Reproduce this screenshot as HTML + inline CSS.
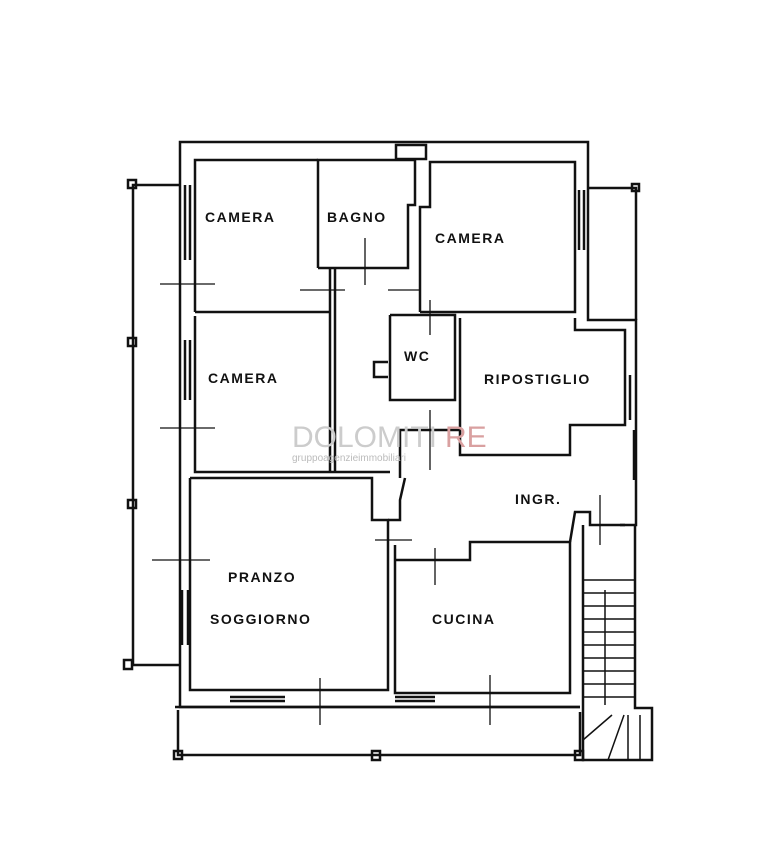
<!DOCTYPE html>
<html><head><style>
html,body{margin:0;padding:0;background:#fff;}
svg{display:block}
text{font-family:"Liberation Sans",sans-serif;font-weight:bold;font-size:14px;fill:#111;letter-spacing:1.5px}
</style></head><body>
<svg width="773" height="866" viewBox="0 0 773 866" xmlns="http://www.w3.org/2000/svg">
<g fill="none" stroke="#111" stroke-width="2.5" stroke-linejoin="miter">
<!-- outer walls -->
<polyline points="180,185 180,142 588,142 588,320 636,320 636,525 620,525"/>
<polyline points="180,185 180,707 580,707"/>
<line x1="175" y1="707" x2="580" y2="707"/>
<!-- left balcony rail -->
<polyline points="180,185 133,185 133,665 180,665"/>
<rect x="128" y="180" width="8" height="8"/>
<rect x="128" y="338" width="8" height="8"/>
<rect x="128" y="500" width="8" height="8"/>
<rect x="124" y="660" width="8" height="9"/>
<!-- right balcony -->
<polyline points="588,188 636,188 636,320"/>
<rect x="632" y="184" width="7" height="7"/>
<!-- bottom terrace -->
<polyline points="178,710 178,755 580,755 580,712"/>
<rect x="174" y="751" width="8" height="8"/>
<rect x="372" y="751" width="8" height="9"/>
<rect x="575" y="751" width="8" height="9"/>
<!-- camera 1 -->
<polyline points="195,312 195,160 318,160"/>
<line x1="195" y1="312" x2="330" y2="312"/>
<!-- bagno -->
<polyline points="318,268 318,160 415,160 415,205 408,205 408,268 318,268"/>
<rect x="396" y="145" width="30" height="14"/>
<!-- camera right -->
<polyline points="420,312 420,207 430,207 430,162 575,162 575,312 420,312"/>
<line x1="330" y1="268" x2="330" y2="472"/>
<line x1="335" y1="268" x2="335" y2="472"/>
<!-- camera 2 -->
<polyline points="195,316 195,472 390,472"/>
<!-- wc -->
<polyline points="390,315 390,400 455,400 455,315 390,315"/>
<polyline points="388,362 374,362 374,377 388,377"/>
<!-- ripostiglio -->
<polyline points="460,318 460,455 570,455 570,425 625,425 625,330 575,330 575,318"/>
<!-- pranzo -->
<polyline points="190,478 190,690 388,690 388,520 372,520 372,478 190,478"/>
<polyline points="388,520 400,520 400,500 405,478"/>
<!-- cucina -->
<polyline points="395,545 395,693 570,693 570,542 470,542 470,560 395,560"/>
<polyline points="570,542 575,512 590,512 590,525 625,525"/>
<polyline points="400,478 400,430 460,430"/>
<!-- windows -->
<line x1="185" y1="185" x2="185" y2="260"/><line x1="190" y1="185" x2="190" y2="260"/>
<line x1="185" y1="340" x2="185" y2="400"/><line x1="190" y1="340" x2="190" y2="400"/>
<line x1="182" y1="590" x2="182" y2="645"/><line x1="188" y1="590" x2="188" y2="645"/>
<line x1="579" y1="190" x2="579" y2="250"/><line x1="584" y1="190" x2="584" y2="250"/>
<line x1="630" y1="375" x2="630" y2="420"/><line x1="634" y1="430" x2="634" y2="480"/>
<line x1="230" y1="697" x2="285" y2="697"/><line x1="230" y1="701" x2="285" y2="701"/>
<line x1="395" y1="697" x2="435" y2="697"/><line x1="395" y1="701" x2="435" y2="701"/>
<!-- stairs -->
<polyline points="583,525 583,760 652,760 652,708 635,708 635,525"/>
<g stroke-width="1.5">
<line x1="583" y1="580" x2="635" y2="580"/><line x1="583" y1="593" x2="635" y2="593"/>
<line x1="583" y1="606" x2="635" y2="606"/><line x1="583" y1="619" x2="635" y2="619"/>
<line x1="583" y1="632" x2="635" y2="632"/><line x1="583" y1="645" x2="635" y2="645"/>
<line x1="583" y1="658" x2="635" y2="658"/><line x1="583" y1="671" x2="635" y2="671"/>
<line x1="583" y1="684" x2="635" y2="684"/><line x1="583" y1="697" x2="635" y2="697"/>
<line x1="583" y1="740" x2="612" y2="715"/><line x1="608" y1="760" x2="624" y2="715"/>
<line x1="628" y1="715" x2="628" y2="760"/><line x1="640" y1="715" x2="640" y2="760"/>
<line x1="605" y1="590" x2="605" y2="705"/>
</g>
<!-- section marks -->
<g stroke-width="1.3">
<line x1="160" y1="284" x2="215" y2="284"/><line x1="160" y1="428" x2="215" y2="428"/>
<line x1="152" y1="560" x2="210" y2="560"/><line x1="365" y1="238" x2="365" y2="285"/>
<line x1="300" y1="290" x2="345" y2="290"/><line x1="388" y1="290" x2="420" y2="290"/>
<line x1="430" y1="300" x2="430" y2="335"/><line x1="375" y1="540" x2="412" y2="540"/>
<line x1="435" y1="548" x2="435" y2="585"/><line x1="490" y1="675" x2="490" y2="725"/>
<line x1="320" y1="678" x2="320" y2="725"/><line x1="600" y1="495" x2="600" y2="545"/>
<line x1="430" y1="410" x2="430" y2="470"/>
</g>
</g>
<text x="205" y="222">CAMERA</text>
<text x="327" y="222">BAGNO</text>
<text x="435" y="243">CAMERA</text>
<text x="208" y="383">CAMERA</text>
<text x="404" y="361">WC</text>
<text x="484" y="384">RIPOSTIGLIO</text>
<text x="515" y="504">INGR.</text>
<text x="228" y="582">PRANZO</text>
<text x="210" y="624">SOGGIORNO</text>
<text x="432" y="624">CUCINA</text>
<text x="292" y="447" style="font-size:30px;font-weight:normal;fill:#ccc;letter-spacing:0">DOLOMITI</text>
<text x="445" y="447" style="font-size:30px;font-weight:normal;fill:#d9a0a0;letter-spacing:0">RE</text>
<text x="292" y="461" style="font-size:10px;font-weight:normal;fill:#bbb;letter-spacing:0">gruppoagenzieimmobiliari</text>
</svg>
</body></html>
